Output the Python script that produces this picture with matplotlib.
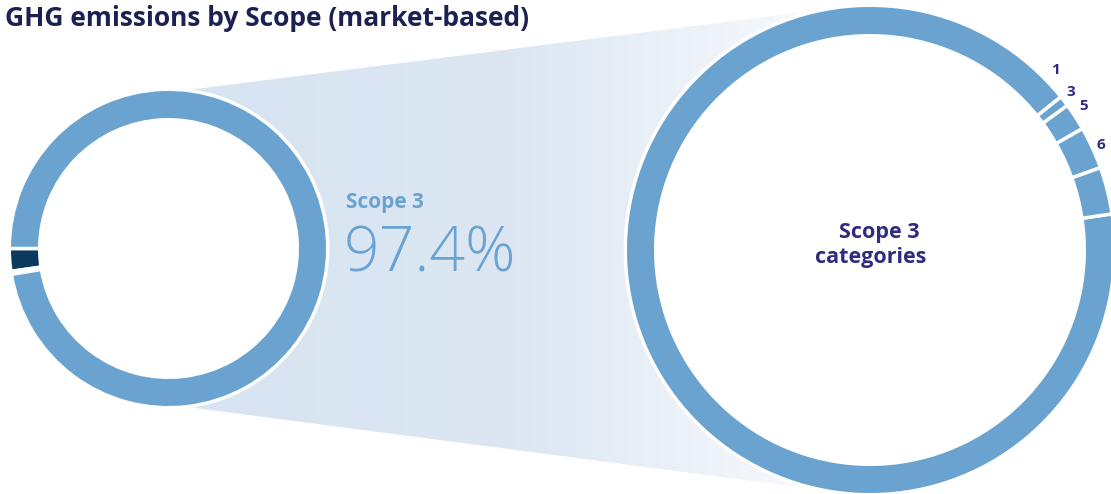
import numpy as np
import matplotlib
matplotlib.use("Agg")
import matplotlib.pyplot as plt
from matplotlib.patches import Circle, Polygon
from matplotlib.colors import LinearSegmentedColormap

# ---- data ----
scope_labels = ["Scope 1", "Scope 2", "Scope 3"]
scope_values = [2.3, 0.3, 97.4]
scope3_highlight = "97.4%"

cat_labels = ["1", "3", "5", "6", ""]
cat_values = [91.6, 0.7, 1.8, 2.8, 3.1]

title = "GHG emissions by Scope (market-based)"

# ---- style ----
LIGHT = "#6ba3d0"
DARK = "#0a3b5e"
NAVY = "#1c2152"
INDIGO = "#2f2b7f"

W, H = 1111, 494
fig = plt.figure(figsize=(W / 100, H / 100), dpi=100)
ax = fig.add_axes([0, 0, 1, 1])

def py(y):  # pixel-from-top -> data y
    return H - y

lw_pt = 2.5
lw_px = lw_pt * 100 / 72

# gradient band between the two donuts
poly = Polygon([(180, py(91)), (852, py(6)), (852, py(494)), (180, py(406))],
               closed=True, facecolor="none", edgecolor="none")
ax.add_patch(poly)
cmap = LinearSegmentedColormap.from_list("g", ["#d7e4f1", "#dce7f3", "#fbfcfe"])
grad = np.linspace(0, 1, 256).reshape(1, -1)
im = ax.imshow(grad, extent=[180, 852, 0, H], cmap=cmap, aspect="auto", zorder=1)
im.set_clip_path(poly)

# left donut
lc, lr, ring = (168.5, py(248.5)), 157.5, 27
ax.add_patch(Circle(lc, lr - ring, color="white", zorder=2))
ax.pie(scope_values, colors=[DARK, LIGHT, LIGHT], startangle=180, counterclock=True,
       center=lc, radius=lr + lw_px / 2,
       wedgeprops=dict(width=ring + lw_px, edgecolor="white", linewidth=lw_pt, zorder=3))

# right donut
rc, rr = (870, py(250)), 243
ax.add_patch(Circle(rc, rr - ring, color="white", zorder=2))
ax.pie(cat_values, colors=[LIGHT] * len(cat_values), startangle=8.5, counterclock=False,
       center=rc, radius=rr + lw_px / 2,
       wedgeprops=dict(width=ring + lw_px, edgecolor="white", linewidth=lw_pt, zorder=3))

ax.set_xlim(0, W)
ax.set_ylim(0, H)
ax.set_aspect("auto")
ax.axis("off")

FONT = ["Open Sans", "DejaVu Sans"]

ax.text(5, py(26), title, fontsize=19, fontweight="bold", color=NAVY,
        family=FONT, ha="left", va="baseline", zorder=5)
ax.text(346, py(208), scope_labels[2], fontsize=15, fontweight="bold", color=LIGHT,
        family=FONT, ha="left", va="baseline", zorder=5)
ax.text(344, py(272), scope3_highlight, fontsize=45, fontweight="light", color=LIGHT,
        family=FONT, ha="left", va="baseline", zorder=5)
ax.text(879, py(238), "Scope 3", fontsize=15.5, fontweight="bold", color=INDIGO,
        family=FONT, ha="center", va="baseline", zorder=5)
ax.text(871, py(263), "categories", fontsize=15.5, fontweight="bold", color=INDIGO,
        family=FONT, ha="center", va="baseline", zorder=5)

label_pos = [(1055.5, 70.5), (1071, 92), (1084, 106), (1101, 145)]
for lab, (x, y) in zip(cat_labels, label_pos):
    ax.text(x, py(y), lab, fontsize=11, fontweight="bold", color=INDIGO,
            family=FONT, ha="center", va="center", zorder=5)

fig.savefig("out.png", dpi=100)
